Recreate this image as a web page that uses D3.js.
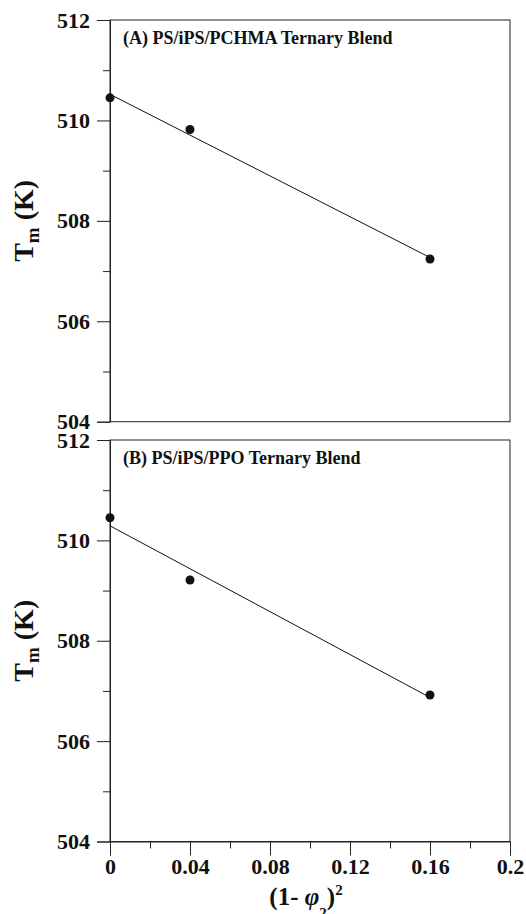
<!DOCTYPE html>
<html>
<head>
<meta charset="utf-8">
<script src="https://cdn.jsdelivr.net/npm/d3@7"></script>
<style>
  html, body { margin: 0; padding: 0; background: #fff; }
  svg { display: block; }
  text { font-family: "Liberation Serif", "Times New Roman", serif; font-weight: bold; fill: #111; }
</style>
</head>
<body>
<svg id="chart" width="526" height="914"></svg>
<script>
// ---- data ----
const panelTitles = ["(A) PS/iPS/PCHMA Ternary Blend", "(B) PS/iPS/PPO Ternary Blend"];
const xValues = [0, 0.04, 0.16];
const tmA = [510.45, 509.82, 507.24];
const tmB = [510.45, 509.21, 506.92];
const fitXA = [0, 0.16];
const fitYA = [510.52, 507.27];
const fitXB = [0, 0.16];
const fitYB = [510.29, 506.87];
const xTicks = [0, 0.04, 0.08, 0.12, 0.16, 0.2];
const xTickLabels = ["0", "0.04", "0.08", "0.12", "0.16", "0.2"];
const xMinorTicks = [0.02, 0.06, 0.10, 0.14, 0.18];
const yTicks = [504, 506, 508, 510, 512];
const yMinorTicks = [505, 507, 509, 511];

const svg = d3.select("#chart");
const left = 110, right = 510;
const FONT = '"Liberation Serif", "Times New Roman", serif';
const panels = [
  { top: 20, bottom: 421.7, title: panelTitles[0], pts: tmA, fx: fitXA, fy: fitYA, showX: false },
  { top: 440, bottom: 841.5, title: panelTitles[1], pts: tmB, fx: fitXB, fy: fitYB, showX: true }
];

const x = d3.scaleLinear().domain([0, 0.2]).range([left, right]);

function styleAxisText(sel) {
  sel.selectAll("text")
    .attr("font-family", FONT).attr("font-weight", "bold")
    .style("font-size", "22px").attr("fill", "#111");
}

panels.forEach(p => {
  const y = d3.scaleLinear().domain([504, 512]).range([p.bottom, p.top]);
  const g = svg.append("g");

  // frame
  g.append("rect")
    .attr("x", left).attr("y", p.top)
    .attr("width", right - left).attr("height", p.bottom - p.top)
    .attr("fill", "none").attr("stroke", "#222").attr("stroke-width", 1);

  // y axis major
  const yAx = g.append("g").attr("transform", `translate(${left},0)`)
    .call(d3.axisLeft(y).tickValues(yTicks).tickSize(13).tickPadding(7).tickFormat(d3.format("d")));
  yAx.select(".domain").attr("stroke", "#222");
  yAx.selectAll(".tick line").attr("stroke", "#222");
  styleAxisText(yAx);
  // y axis minor
  const yMin = g.append("g").attr("transform", `translate(${left},0)`)
    .call(d3.axisLeft(y).tickValues(yMinorTicks).tickSize(7).tickFormat(""));
  yMin.select(".domain").remove();
  yMin.selectAll(".tick line").attr("stroke", "#222");

  if (p.showX) {
    const xAx = g.append("g").attr("transform", `translate(0,${p.bottom})`)
      .call(d3.axisBottom(x).tickValues(xTicks).tickSize(14).tickPadding(3)
        .tickFormat((d, i) => xTickLabels[i]));
    xAx.select(".domain").attr("stroke", "#222");
    xAx.selectAll(".tick line").attr("stroke", "#222");
    styleAxisText(xAx);
    const xMin = g.append("g").attr("transform", `translate(0,${p.bottom})`)
      .call(d3.axisBottom(x).tickValues(xMinorTicks).tickSize(7).tickFormat(""));
    xMin.select(".domain").remove();
    xMin.selectAll(".tick line").attr("stroke", "#222");
  }

  // fit line
  const line = d3.line().x(d => x(d[0])).y(d => y(d[1]));
  g.append("path")
    .datum(p.fx.map((v, i) => [v, p.fy[i]]))
    .attr("d", line)
    .attr("fill", "none").attr("stroke", "#111").attr("stroke-width", 1);

  // points
  g.selectAll("circle.pt")
    .data(xValues.map((v, i) => [v, p.pts[i]]))
    .join("circle")
    .attr("class", "pt")
    .attr("cx", d => x(d[0])).attr("cy", d => y(d[1]))
    .attr("r", 4.5).attr("fill", "#111");

  // panel title
  g.append("text")
    .attr("x", left + 13).attr("y", p.top + 23.5)
    .style("font-size", "18px")
    .text(p.title);

  // y label
  const cy = (p.top + p.bottom) / 2;
  const yl = g.append("text")
    .attr("transform", `translate(33,${cy}) rotate(-90)`)
    .attr("text-anchor", "middle")
    .style("font-size", "28px");
  yl.append("tspan").text("T");
  yl.append("tspan").attr("dy", 6).style("font-size", "19px").text("m");
  yl.append("tspan").attr("dy", -6).text(" (K)");
});

// x axis title
const xt = svg.append("text")
  .attr("x", (left + right) / 2 - 4).attr("y", 905)
  .attr("text-anchor", "middle")
  .style("font-size", "25px");
xt.append("tspan").text("(1- ");
xt.append("tspan").style("font-style", "italic").text("φ");
xt.append("tspan").attr("dy", 13).style("font-size", "15px").text("2");
xt.append("tspan").attr("dy", -13).text(")");
xt.append("tspan").attr("dy", -10).style("font-size", "15px").text("2");
</script>
</body>
</html>
